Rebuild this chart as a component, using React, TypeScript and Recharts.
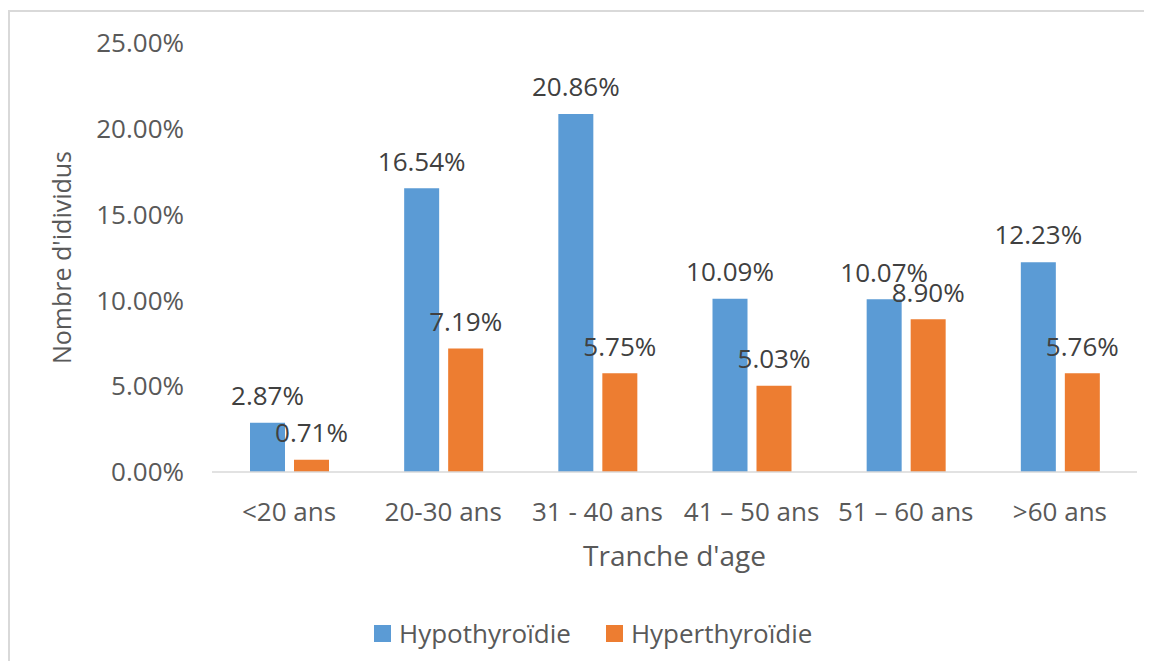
import React from "react";
import { BarChart, Bar, XAxis, YAxis, Legend, LabelList } from "recharts";

const categories = ["<20 ans", "20-30 ans", "31 - 40 ans", "41 – 50 ans", "51 – 60 ans", ">60 ans"];
const hypothyroidie = [2.87, 16.54, 20.86, 10.09, 10.07, 12.23];
const hyperthyroidie = [0.71, 7.19, 5.75, 5.03, 8.9, 5.76];
const yTicks = [0, 5, 10, 15, 20, 25];

const seriesNames = { hypo: "Hypothyroïdie", hyper: "Hyperthyroïdie" };
const colors = { hypo: "#5B9BD5", hyper: "#ED7D31" };

const data = categories.map((c, i) => ({
  cat: c,
  hypo: hypothyroidie[i],
  hyper: hyperthyroidie[i],
}));

const FONT = "'Open Sans', sans-serif";
const FS = 26;
const AXIS_TEXT = "#595959";
const LABEL_TEXT = "#404040";

const fmt = (v: number) => `${Number(v).toFixed(2)}%`;

// Value label drawn centred above each bar
const ValueLabel = (props: any) => {
  const { x, y, width, value } = props;
  const cx = Number(x) + Number(width) / 2;
  const cy = Number(y) - 27;
  return (
    <text
      x={cx}
      y={cy}
      dy={FS * 0.36}
      textAnchor="middle"
      fontFamily={FONT}
      fontSize={FS}
      fill={LABEL_TEXT}
    >
      {fmt(value)}
    </text>
  );
};

const YTitle = (props: any) => {
  const { viewBox } = props;
  const fs = 25;
  const cx = viewBox.x + 52;
  const cy = viewBox.y + viewBox.height / 2;
  return (
    <text
      x={cx}
      y={cy}
      dy={fs * 0.36}
      transform={`rotate(-90, ${cx}, ${cy})`}
      textAnchor="middle"
      fontFamily={FONT}
      fontSize={fs}
      fill={AXIS_TEXT}
    >
      Nombre d'idividus
    </text>
  );
};

const XTitle = (props: any) => {
  const { viewBox } = props;
  const fs = 28;
  const cx = viewBox.x + viewBox.width / 2;
  const cy = viewBox.y + 84;
  return (
    <text
      x={cx}
      y={cy}
      dy={fs * 0.36}
      textAnchor="middle"
      fontFamily={FONT}
      fontSize={fs}
      fill={AXIS_TEXT}
    >
      Tranche d'age
    </text>
  );
};

const LegendContent = () => (
  <div style={{ display: "flex", alignItems: "center", fontFamily: FONT, fontSize: FS, color: AXIS_TEXT, whiteSpace: "nowrap" }}>
    {(["hypo", "hyper"] as const).map((k, i) => (
      <div key={k} style={{ display: "flex", alignItems: "center", marginLeft: i === 0 ? 0 : 35 }}>
        <span style={{ display: "inline-block", width: 17, height: 17, background: colors[k], marginRight: 8 }} />
        <span>{seriesNames[k]}</span>
      </div>
    ))}
  </div>
);

export default function App() {
  return (
    <div style={{ paddingTop: 2 }}>
      <div style={{ borderTop: "2px solid #d9d9d9", borderLeft: "2px solid #d9d9d9", width: 1134, height: 649, background: "#fff" }}>
        <BarChart
          width={1134}
          height={649}
          data={data}
          margin={{ top: 31, right: 7, left: 0, bottom: 0 }}
          barGap={9}
          barSize={35}
        >
          <XAxis
            dataKey="cat"
            height={189}
            tickLine={false}
            tickSize={0}
            tickMargin={31}
            axisLine={{ stroke: "#d9d9d9", strokeWidth: 1.5 }}
            tick={{ fontFamily: FONT, fontSize: FS, fill: AXIS_TEXT }}
            interval={0}
            label={<XTitle />}
          />
          <YAxis
            width={202}
            domain={[0, 25]}
            ticks={yTicks}
            tickFormatter={fmt}
            axisLine={false}
            tickLine={false}
            tickSize={0}
            tickMargin={28}
            tick={{ fontFamily: FONT, fontSize: FS, fill: AXIS_TEXT }}
            label={<YTitle />}
          />
          <Legend
            layout="horizontal"
            verticalAlign="middle"
            align="center"
            content={<LegendContent />}
            wrapperStyle={{ position: "absolute", left: 364, top: 603, width: "auto", height: "auto" }}
          />
          <Bar dataKey="hypo" name={seriesNames.hypo} fill={colors.hypo} isAnimationActive={false}>
            <LabelList dataKey="hypo" content={<ValueLabel />} />
          </Bar>
          <Bar dataKey="hyper" name={seriesNames.hyper} fill={colors.hyper} isAnimationActive={false}>
            <LabelList dataKey="hyper" content={<ValueLabel />} />
          </Bar>
        </BarChart>
      </div>
    </div>
  );
}
